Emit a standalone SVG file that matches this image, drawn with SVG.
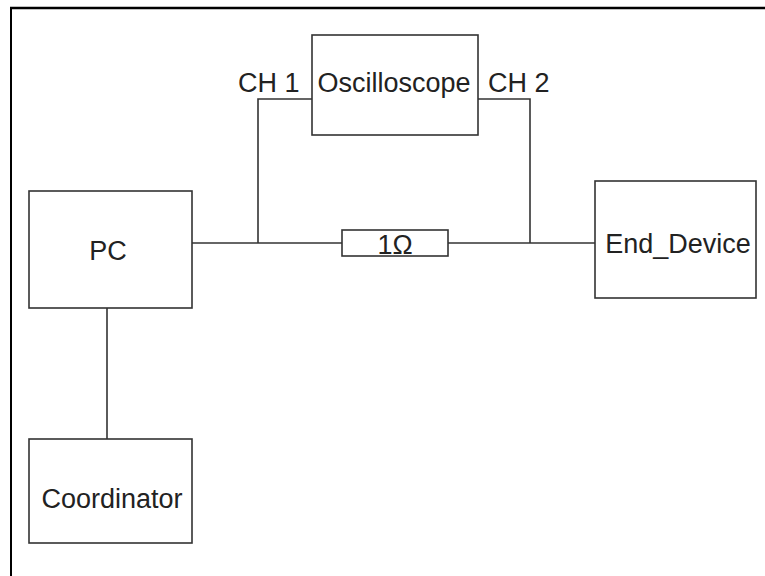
<svg xmlns="http://www.w3.org/2000/svg" width="765" height="576" viewBox="0 0 765 576">
<style>
.box{fill:#fff;stroke:#333;stroke-width:1.6}
.w{fill:none;stroke:#333;stroke-width:1.6}
.t{font-family:"Liberation Sans",Arial,sans-serif;font-size:27px;fill:#222}
.m{text-anchor:middle}
</style>
<rect x="0" y="0" width="765" height="576" fill="#fff"/>
<g id="frame">
<line x1="10" y1="8" x2="765" y2="8" stroke="#000" stroke-width="2.5"/>
<line x1="11" y1="7" x2="11" y2="576" stroke="#000" stroke-width="2"/>
</g>
<g id="connectors">
<polyline class="w" points="192,243 342,243"/>
<polyline class="w" points="448,243 595,243"/>
<polyline class="w" points="258,243 258,99 312,99"/>
<polyline class="w" points="478,99 530,99 530,243"/>
<line class="w" x1="107" y1="308" x2="107" y2="439"/>
</g>
<g id="resistor">
<rect class="box" x="342" y="230" width="106" height="26"/>
<text class="t m" x="395" y="254">1Ω</text>
</g>
<g id="oscilloscope">
<rect class="box" x="312" y="35" width="166" height="100"/>
<text class="t m" x="394" y="92">Oscilloscope</text>
</g>
<text class="t" x="238" y="92">CH 1</text>
<text class="t" x="488" y="92">CH 2</text>
<g id="pc">
<rect class="box" x="29" y="191" width="163" height="117"/>
<text class="t m" x="108" y="260">PC</text>
</g>
<g id="end_device">
<rect class="box" x="595" y="181" width="161" height="117"/>
<text class="t m" x="678" y="253">End_Device</text>
</g>
<g id="coordinator">
<rect class="box" x="29" y="439" width="163" height="104"/>
<text class="t m" x="112" y="508">Coordinator</text>
</g>
</svg>
